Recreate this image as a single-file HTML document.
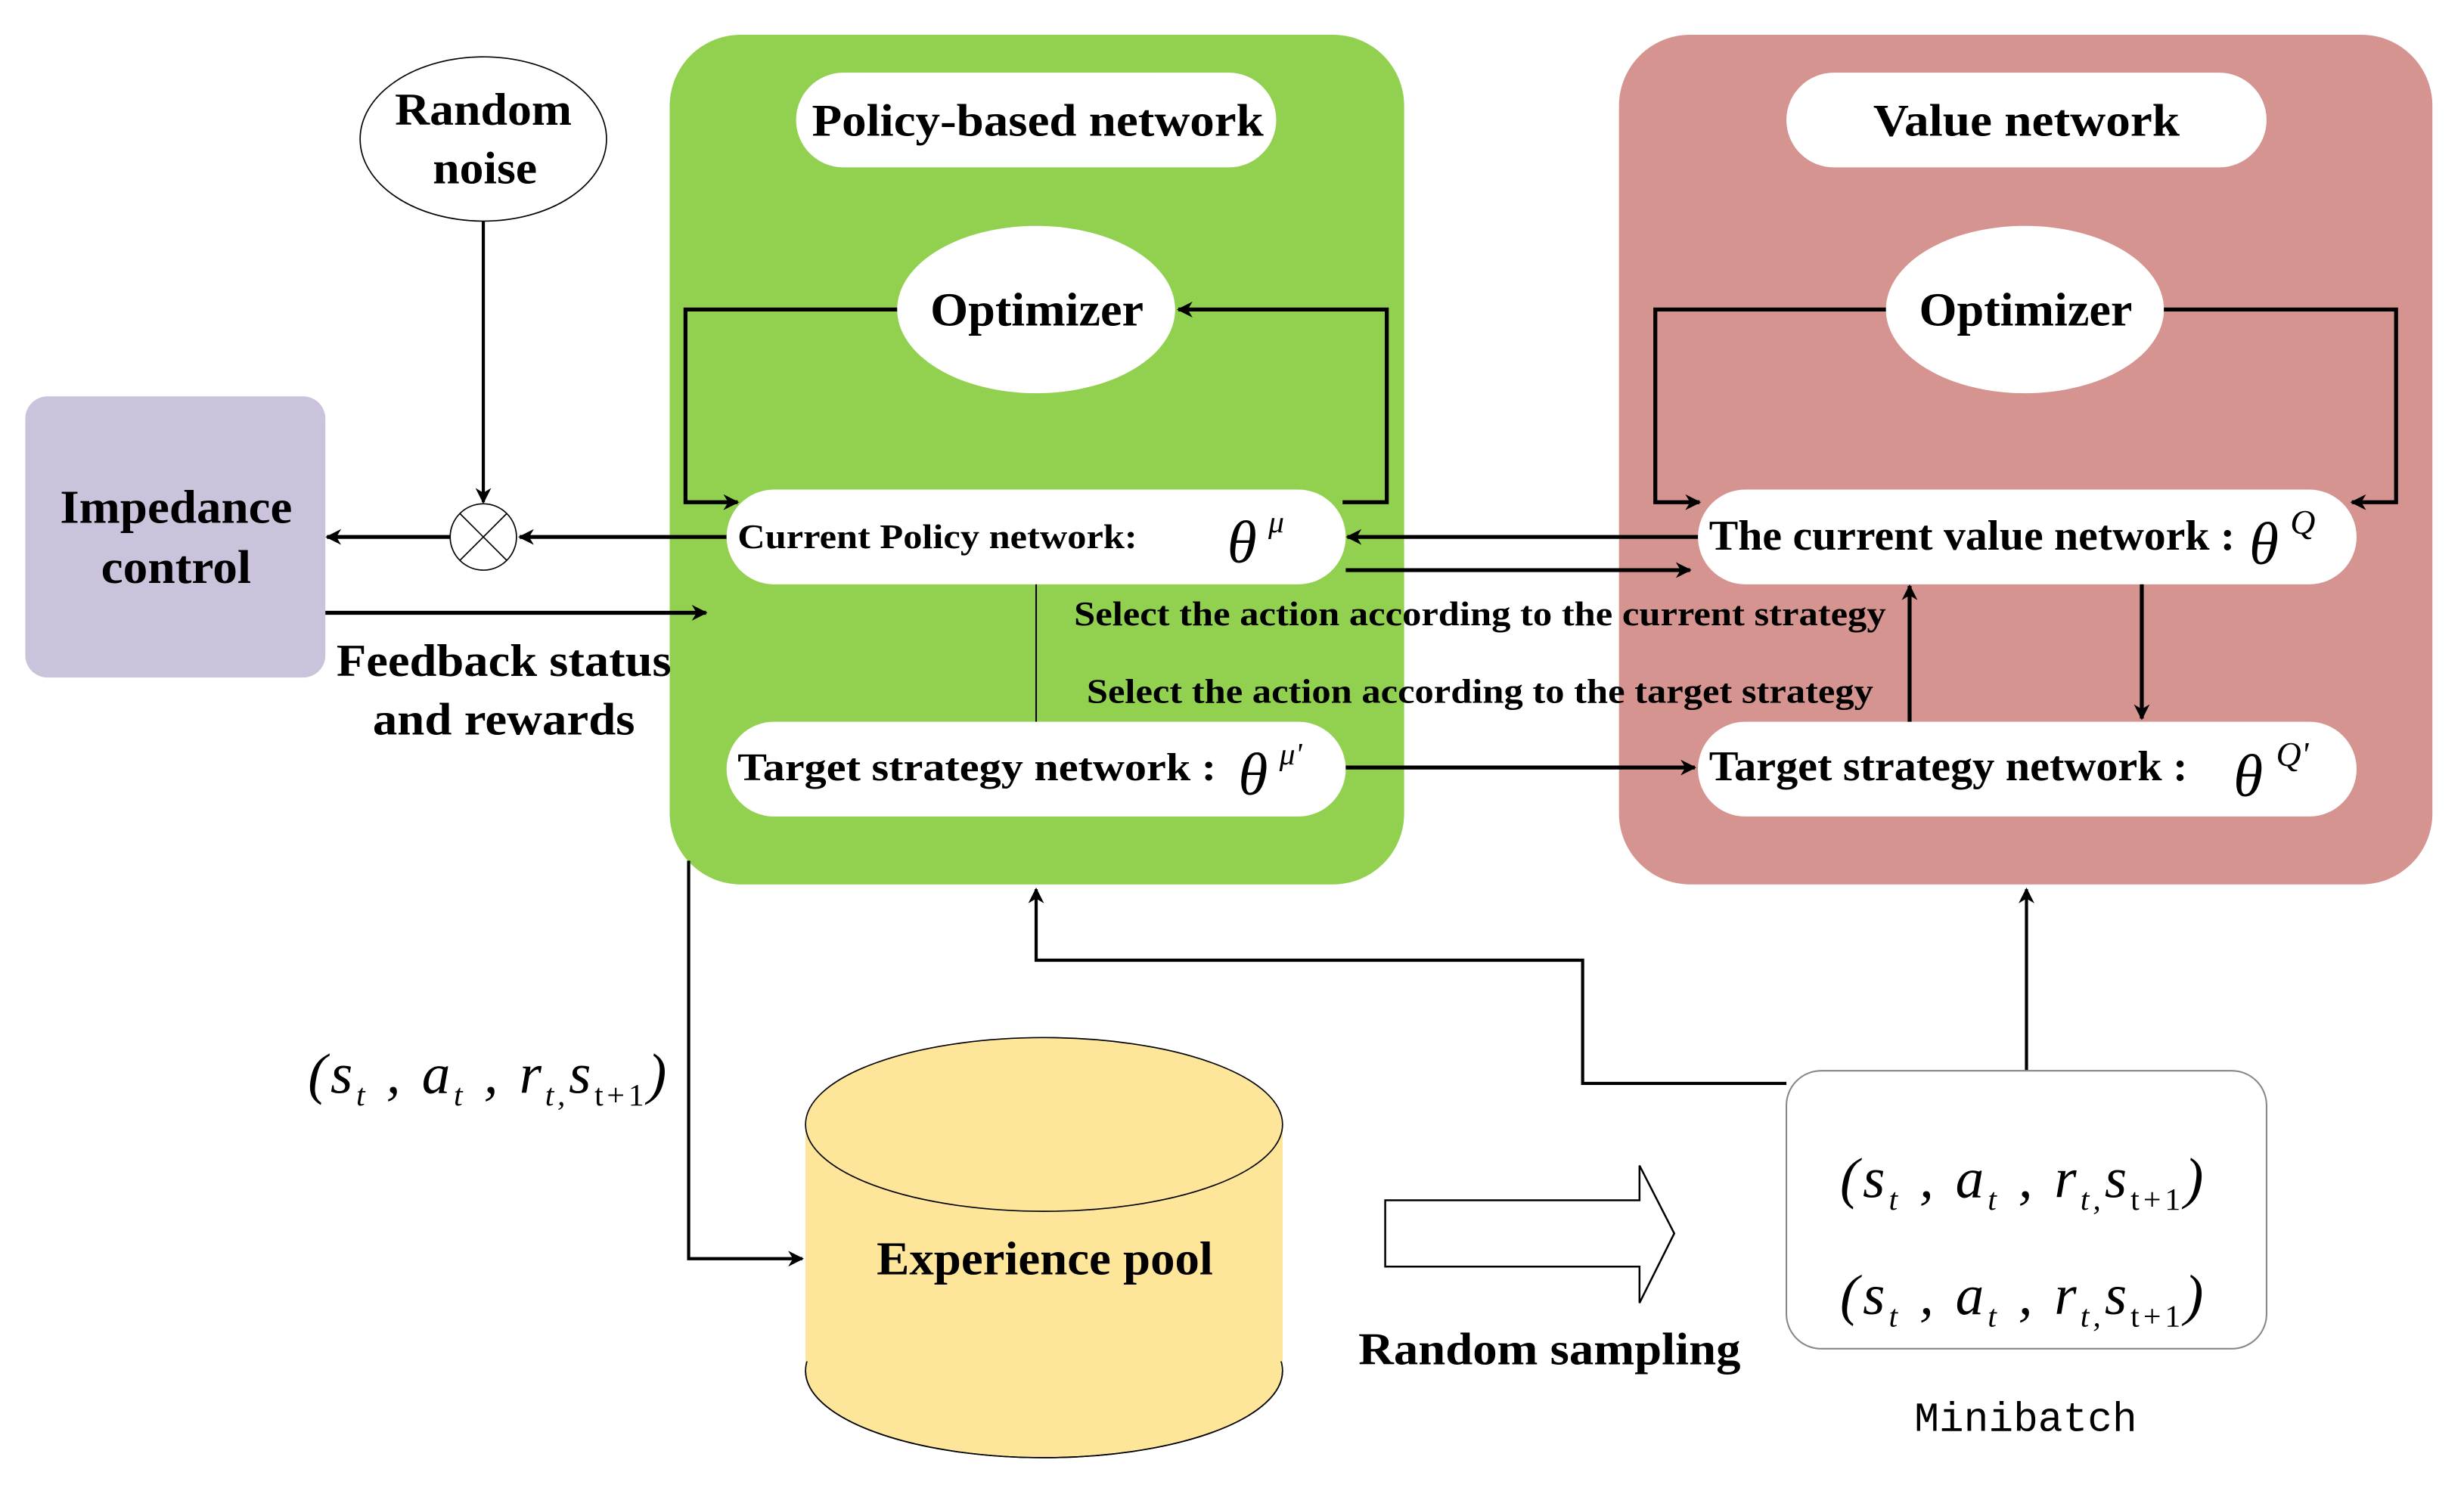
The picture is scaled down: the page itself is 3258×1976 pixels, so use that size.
<!DOCTYPE html>
<html><head><meta charset="utf-8"><style>
html,body{margin:0;padding:0;background:#fff;}
svg{display:block;}
text{font-family:"Liberation Serif",serif;}
.b{font-weight:bold;}
.m{font-style:italic;}
</style></head><body>
<svg width="3258" height="1976" viewBox="0 0 1560 946" preserveAspectRatio="none" xmlns="http://www.w3.org/2000/svg">
<defs>
<marker id="ah" markerWidth="10" markerHeight="10" refX="9" refY="5" orient="auto" markerUnits="userSpaceOnUse">
<path d="M0,0 L10,5 L0,10 L3,5 z" fill="#000"/>
</marker>
</defs>
<rect width="1560" height="946" fill="#fff"/>

<rect x="424" y="22" width="465" height="538" rx="45" fill="#92d050"/>
<rect x="1025" y="22" width="515" height="538" rx="45" fill="#d5948f"/>
<rect x="16" y="251" width="190" height="178" rx="14" fill="#cbc3dc"/>
<text x="38" y="331" font-size="30" class="b" textLength="147" lengthAdjust="spacingAndGlyphs">Impedance</text>
<text x="64" y="369" font-size="30" class="b" textLength="95" lengthAdjust="spacingAndGlyphs">control</text>

<ellipse cx="306" cy="88" rx="78" ry="52" fill="#fff" stroke="#000" stroke-width="0.8"/>
<text x="250" y="79" font-size="29" class="b" textLength="112" lengthAdjust="spacingAndGlyphs">Random</text>
<text x="274" y="116" font-size="29" class="b" textLength="66" lengthAdjust="spacingAndGlyphs">noise</text>
<line x1="306" y1="140" x2="306" y2="318" stroke="#000" stroke-width="2" marker-end="url(#ah)"/>
<ellipse cx="306" cy="340" rx="21" ry="21" fill="#fff" stroke="#000" stroke-width="0.8"/>
<line x1="291" y1="325" x2="321" y2="355" stroke="#000" stroke-width="0.8"/>
<line x1="321" y1="325" x2="291" y2="355" stroke="#000" stroke-width="0.8"/>
<line x1="285" y1="340" x2="207" y2="340" stroke="#000" stroke-width="2.5" marker-end="url(#ah)"/>
<line x1="460" y1="340" x2="329" y2="340" stroke="#000" stroke-width="2.5" marker-end="url(#ah)"/>
<line x1="206" y1="388" x2="447" y2="388" stroke="#000" stroke-width="2.5" marker-end="url(#ah)"/>
<text x="213" y="428" font-size="29" class="b" textLength="212" lengthAdjust="spacingAndGlyphs">Feedback status</text>
<text x="236" y="465" font-size="29" class="b" textLength="166" lengthAdjust="spacingAndGlyphs">and rewards</text>

<rect x="504" y="46" width="304" height="60" rx="30" fill="#fff"/>
<text x="514" y="86" font-size="29" class="b" textLength="286" lengthAdjust="spacingAndGlyphs">Policy-based network</text>
<ellipse cx="656" cy="196" rx="88" ry="53" fill="#fff"/>
<text x="589" y="206" font-size="30" class="b" textLength="135" lengthAdjust="spacingAndGlyphs">Optimizer</text>
<polyline points="568,196 434,196 434,318 467,318" fill="none" stroke="#000" stroke-width="2.5" marker-end="url(#ah)"/>
<polyline points="850,318 878,318 878,196 746,196" fill="none" stroke="#000" stroke-width="2.5" marker-end="url(#ah)"/>
<rect x="460" y="310" width="392" height="60" rx="30" fill="#fff"/>
<text x="467" y="347" font-size="22" class="b" textLength="253" lengthAdjust="spacingAndGlyphs">Current Policy network:</text>
<text x="777" y="356" font-size="38" class="m">θ</text><text x="803" y="337" font-size="20" class="m">μ</text>
<line x1="656" y1="370" x2="656" y2="457" stroke="#000" stroke-width="1"/>
<rect x="460" y="457" width="392" height="60" rx="30" fill="#fff"/>
<text x="467" y="494" font-size="25" class="b" textLength="303" lengthAdjust="spacingAndGlyphs">Target strategy network :</text>
<text x="784" y="503" font-size="38" class="m">θ</text><text x="810" y="484" font-size="20" class="m">μ'</text>

<line x1="1077" y1="340" x2="853" y2="340" stroke="#000" stroke-width="2.5" marker-end="url(#ah)"/>
<line x1="852" y1="361" x2="1070" y2="361" stroke="#000" stroke-width="2.5" marker-end="url(#ah)"/>
<line x1="852" y1="486" x2="1073" y2="486" stroke="#000" stroke-width="2.5" marker-end="url(#ah)"/>
<text x="680" y="396" font-size="22" class="b" textLength="514" lengthAdjust="spacingAndGlyphs">Select the action according to the current strategy</text>
<text x="688" y="445" font-size="22" class="b" textLength="498" lengthAdjust="spacingAndGlyphs">Select the action according to the target strategy</text>

<rect x="1131" y="46" width="304" height="60" rx="30" fill="#fff"/>
<text x="1186" y="86" font-size="29" class="b" textLength="194" lengthAdjust="spacingAndGlyphs">Value network</text>
<ellipse cx="1282" cy="196" rx="88" ry="53" fill="#fff"/>
<text x="1215" y="206" font-size="30" class="b" textLength="135" lengthAdjust="spacingAndGlyphs">Optimizer</text>
<polyline points="1194,196 1048,196 1048,318 1076,318" fill="none" stroke="#000" stroke-width="2.5" marker-end="url(#ah)"/>
<polyline points="1370,196 1517,196 1517,318 1489,318" fill="none" stroke="#000" stroke-width="2.5" marker-end="url(#ah)"/>
<rect x="1075" y="310" width="417" height="60" rx="30" fill="#fff"/>
<text x="1082" y="348" font-size="27" class="b" textLength="333" lengthAdjust="spacingAndGlyphs">The current value network :</text>
<text x="1424" y="357" font-size="38" class="m">θ</text><text x="1450" y="338" font-size="22" class="m">Q</text>
<rect x="1075" y="457" width="417" height="60" rx="30" fill="#fff"/>
<text x="1082" y="494" font-size="27" class="b" textLength="303" lengthAdjust="spacingAndGlyphs">Target strategy network :</text>
<text x="1414" y="504" font-size="38" class="m">θ</text><text x="1441" y="485" font-size="22" class="m">Q'</text>
<line x1="1209" y1="457" x2="1209" y2="371" stroke="#000" stroke-width="2.5" marker-end="url(#ah)"/>
<line x1="1356" y1="370" x2="1356" y2="455" stroke="#000" stroke-width="2.5" marker-end="url(#ah)"/>

<line x1="1283" y1="678" x2="1283" y2="563" stroke="#000" stroke-width="2" marker-end="url(#ah)"/>
<polyline points="1131,686 1002,686 1002,608 656,608 656,563" fill="none" stroke="#000" stroke-width="2" marker-end="url(#ah)"/>
<polyline points="436,545 436,797 508,797" fill="none" stroke="#000" stroke-width="2" marker-end="url(#ah)"/>

<text x="195" y="692" font-size="36" class="m" textLength="227" lengthAdjust="spacing">(<tspan>s</tspan><tspan font-size="20" dy="8">t</tspan><tspan dy="-8"> , a</tspan><tspan font-size="20" dy="8">t</tspan><tspan dy="-8"> , r</tspan><tspan font-size="20" dy="8">t,</tspan><tspan dy="-8">s</tspan><tspan font-size="20" dy="8" font-style="normal">t+1</tspan><tspan dy="-8">)</tspan></text>

<rect x="510" y="712" width="302" height="156" fill="#fde59a"/>
<ellipse cx="661" cy="868" rx="151" ry="55" fill="#fde59a" stroke="#000" stroke-width="0.8"/>
<rect x="510" y="712" width="302" height="150" fill="#fde59a"/>
<path d="M510,868 A151,55 0 0 0 812,868" fill="none" stroke="#000" stroke-width="0.8"/>
<ellipse cx="661" cy="712" rx="151" ry="55" fill="#fde59a" stroke="#000" stroke-width="0.8"/>
<text x="555" y="807" font-size="30" class="b" textLength="213" lengthAdjust="spacingAndGlyphs">Experience pool</text>

<path d="M877,760 L1038,760 L1038,738 L1060,781 L1038,825 L1038,802 L877,802 Z" fill="#fff" stroke="#000" stroke-width="1.2"/>
<text x="860" y="864" font-size="29" class="b" textLength="242" lengthAdjust="spacingAndGlyphs">Random sampling</text>

<rect x="1131" y="678" width="304" height="176" rx="22" fill="#fff" stroke="#888" stroke-width="1"/>
<text x="1165" y="758" font-size="36" class="m" textLength="230" lengthAdjust="spacing">(<tspan>s</tspan><tspan font-size="20" dy="8">t</tspan><tspan dy="-8"> , a</tspan><tspan font-size="20" dy="8">t</tspan><tspan dy="-8"> , r</tspan><tspan font-size="20" dy="8">t,</tspan><tspan dy="-8">s</tspan><tspan font-size="20" dy="8" font-style="normal">t+1</tspan><tspan dy="-8">)</tspan></text>
<text x="1165" y="832" font-size="36" class="m" textLength="230" lengthAdjust="spacing">(<tspan>s</tspan><tspan font-size="20" dy="8">t</tspan><tspan dy="-8"> , a</tspan><tspan font-size="20" dy="8">t</tspan><tspan dy="-8"> , r</tspan><tspan font-size="20" dy="8">t,</tspan><tspan dy="-8">s</tspan><tspan font-size="20" dy="8" font-style="normal">t+1</tspan><tspan dy="-8">)</tspan></text>
<text x="1212" y="906" font-size="26" textLength="141" lengthAdjust="spacingAndGlyphs" style="font-family:'Liberation Mono',monospace">Minibatch</text>
</svg>
</body></html>
